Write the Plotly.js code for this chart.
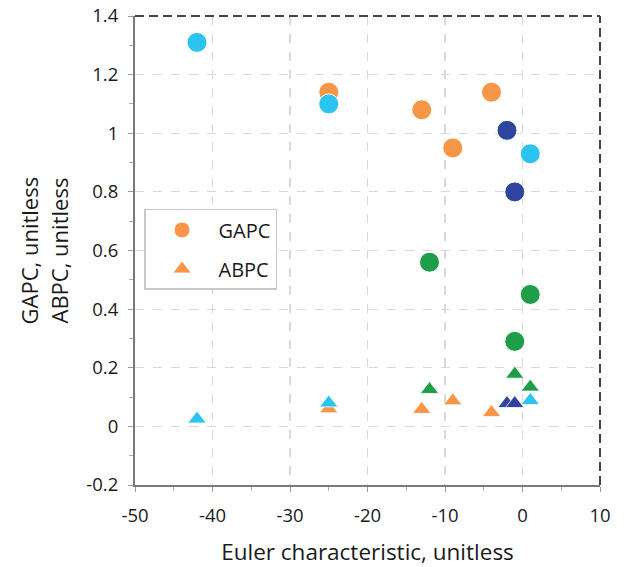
<!DOCTYPE html>
<html>
<head>
<meta charset="utf-8">
<script src="https://cdn.plot.ly/plotly-3.0.1.min.js"></script>
<style>html,body{margin:0;padding:0;background:#fff;}#chart{width:627px;height:567px;}</style>
</head>
<body>
<div id="chart"></div>
<script>
// Orange series
var orangeEuler = [-25, -13, -9, -4];
var orangeGAPC = [1.14, 1.08, 0.95, 1.14];
var orangeABPC = [0.06, 0.058, 0.087, 0.047];
// Light blue series
var lightBlueEuler = [-42, -25, 1];
var lightBlueGAPC = [1.31, 1.10, 0.93];
var lightBlueABPC = [0.025, 0.08, 0.088];
// Navy series
var navyEuler = [-2, -1];
var navyGAPC = [1.01, 0.80];
var navyABPC = [0.078, 0.078];
// Green series
var greenEuler = [-12, 1, -1];
var greenGAPC = [0.56, 0.45, 0.29];
var greenABPC = [0.126, 0.134, 0.178];

var xTickVals = [-50, -40, -30, -20, -10, 0, 10];
var xTickText = ["-50", "-40", "-30", "-20", "-10", "0", "10"];
var yTickVals = [-0.2, 0, 0.2, 0.4, 0.6, 0.8, 1, 1.2, 1.4];
var yTickText = ["-0.2", "0", "0.2", "0.4", "0.6", "0.8", "1", "1.2", "1.4"];

var FONT = "'Open Sans', 'Noto Sans', sans-serif";
var TXT = '#1a1a1a';
var circleSize = 20, triSize = 16;

function circ(x, y, color, name, show, grp) {
  return {x: x, y: y, type: 'scatter', mode: 'markers', name: name, showlegend: show, legendgroup: grp,
    marker: {symbol: 'circle', size: circleSize, color: color, line: {color: '#ffffff', width: 1}}};
}
function tri(x, y, color, name, show, grp) {
  return {x: x, y: y, type: 'scatter', mode: 'markers', name: name, showlegend: show, legendgroup: grp,
    marker: {symbol: 'triangle-up', size: triSize, color: color, line: {color: '#ffffff', width: 0.8}}};
}

var cOrange = '#F79646', cLight = '#2BC4F0', cNavy = '#2E449E', cGreen = '#1E9E48';

var data = [
  circ(orangeEuler, orangeGAPC, cOrange, 'GAPC', true, 'g1'),
  tri(orangeEuler, orangeABPC, cOrange, 'ABPC', true, 'g2'),
  circ(lightBlueEuler, lightBlueGAPC, cLight, 'GAPC light', false, 'g3'),
  tri(lightBlueEuler, lightBlueABPC, cLight, 'ABPC light', false, 'g3'),
  circ(navyEuler, navyGAPC, cNavy, 'GAPC navy', false, 'g3'),
  tri(navyEuler, navyABPC, cNavy, 'ABPC navy', false, 'g3'),
  circ(greenEuler, greenGAPC, cGreen, 'GAPC green', false, 'g3'),
  tri(greenEuler, greenABPC, cGreen, 'ABPC green', false, 'g3')
];

var layout = {
  width: 627, height: 567,
  margin: {l: 135, r: 27, t: 16, b: 82},
  paper_bgcolor: '#ffffff', plot_bgcolor: '#ffffff',
  font: {family: FONT, size: 18, color: TXT},
  showlegend: true,
  legend: {x: 0.0194, y: 0.5885, xanchor: 'left', yanchor: 'top',
    bgcolor: '#ffffff', bordercolor: '#c8c8c8', borderwidth: 1.5,
    traceorder: 'grouped', tracegroupgap: 10,
    font: {family: FONT, size: 20, color: TXT}, itemwidth: 63, itemsizing: 'trace'},
  xaxis: {
    range: [-50, 10], tickmode: 'array', tickvals: xTickVals, ticktext: xTickText,
    showgrid: true, gridcolor: '#d9d9d9', griddash: 'dash', gridwidth: 1.2,
    zeroline: false, showline: true, linecolor: '#7a7a7a', linewidth: 2,
    ticks: 'outside', ticklen: 5, tickcolor: '#9a9a9a', tickwidth: 1,
    minor: {tickmode: 'linear', tick0: -50, dtick: 5, ticks: 'outside', ticklen: 4, tickcolor: '#b0b0b0', showgrid: false},
    tickfont: {family: FONT, size: 18.5, color: TXT}, ticklabelstandoff: 8,
    title: {text: 'Euler characteristic, unitless', font: {family: FONT, size: 22.5, color: TXT}, standoff: 19},
    fixedrange: true
  },
  yaxis: {
    range: [-0.2, 1.4], tickmode: 'array', tickvals: yTickVals, ticktext: yTickText,
    showgrid: true, gridcolor: '#d9d9d9', griddash: 'dash', gridwidth: 1.2,
    zeroline: false, showline: true, linecolor: '#7a7a7a', linewidth: 2,
    ticks: 'outside', ticklen: 5, tickcolor: '#9a9a9a', tickwidth: 1,
    minor: {tickmode: 'linear', tick0: -0.2, dtick: 0.1, ticks: 'outside', ticklen: 4, tickcolor: '#b0b0b0', showgrid: false},
    tickfont: {family: FONT, size: 18.5, color: TXT}, ticklabelstandoff: 6,
    fixedrange: true
  },
  shapes: [
    {type: 'line', xref: 'paper', yref: 'paper', x0: 0, x1: 1, y0: 1, y1: 1,
      line: {color: '#444444', width: 2, dash: '9px,5px'}},
    {type: 'line', xref: 'paper', yref: 'paper', x0: 1, x1: 1, y0: 0, y1: 1,
      line: {color: '#444444', width: 2, dash: '9px,5px'}}
  ],
  annotations: [
    {text: 'GAPC, unitless', xref: 'paper', yref: 'paper', x: 0, y: 0.5, xanchor: 'center', yanchor: 'middle',
      xshift: -107, yshift: 0, textangle: -90, showarrow: false, font: {family: FONT, size: 22, color: TXT}},
    {text: 'ABPC, unitless', xref: 'paper', yref: 'paper', x: 0, y: 0.5, xanchor: 'center', yanchor: 'middle',
      xshift: -77, yshift: 0, textangle: -90, showarrow: false, font: {family: FONT, size: 22, color: TXT}}
  ]
};

Plotly.newPlot('chart', data, layout, {displayModeBar: false, staticPlot: true});
</script>
</body>
</html>
